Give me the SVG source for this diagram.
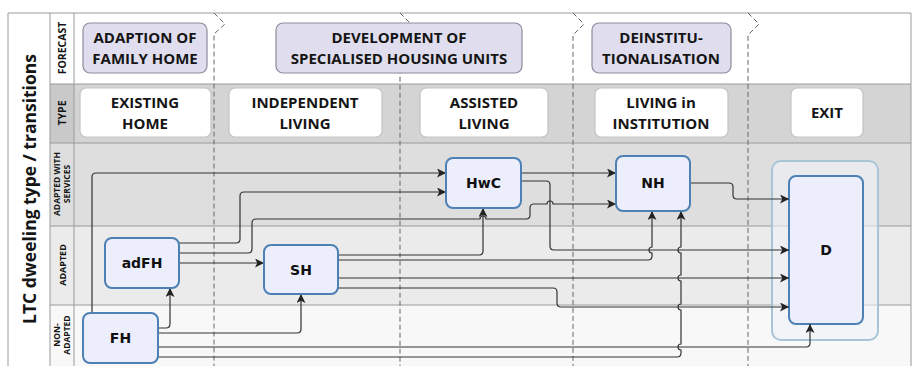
<svg xmlns="http://www.w3.org/2000/svg" width="913" height="366" viewBox="0 0 913 366">
<style>
.hdr{fill:#e0deee;stroke:#8e8c9c;stroke-width:1.2}
.typ{fill:#ffffff;stroke:#c4c4c4;stroke-width:1.2}
.ht{font-family:"Open Sans",sans-serif;font-weight:700;font-size:15px;fill:#151515;text-anchor:middle}
.rl{font-family:"Open Sans",sans-serif;font-weight:700;fill:#151515;text-anchor:middle}
.node rect{fill:#eceefc;stroke:#4d80b4;stroke-width:2}
.nt{font-family:"DejaVu Sans",sans-serif;font-weight:700;font-size:14px;fill:#111;text-anchor:middle}
.dash{fill:none;stroke:#666;stroke-width:1;stroke-dasharray:5,3}
.sep{stroke:#9a9a9a;stroke-width:1}
#connectors path{fill:none;stroke:#333;stroke-width:1.2}
</style>
<defs>
<marker id="ar" viewBox="0 0 10 10" refX="10" refY="5" markerWidth="9" markerHeight="9" markerUnits="userSpaceOnUse" orient="auto">
<path d="M0,0 L10,5 L0,10 L2.5,5 Z" fill="#222"/>
</marker>
</defs>
<rect x="0" y="0" width="913" height="366" fill="#ffffff"/>
<g id="rows">
<rect x="50" y="13" width="861" height="71" fill="#ffffff"/>
<rect x="50" y="84" width="861" height="59" fill="#d4d4d4"/>
<rect x="50" y="143" width="861" height="83" fill="#dedede"/>
<rect x="50" y="226" width="861" height="79" fill="#ebebeb"/>
<rect x="50" y="305" width="861" height="61" fill="#f8f8f8"/>
<rect x="50" y="84" width="24" height="59" fill="#c9c9c9"/>
<rect x="8" y="13" width="42" height="353" fill="#ffffff"/>
<line class="sep" x1="8" y1="13" x2="911" y2="13"/>
<line class="sep" x1="8" y1="13" x2="8" y2="366"/>
<line class="sep" x1="50" y1="13" x2="50" y2="366"/>
<line class="sep" x1="74" y1="13" x2="74" y2="366"/>
<line class="sep" x1="911" y1="13" x2="911" y2="366"/>
<line class="sep" x1="50" y1="84" x2="911" y2="84"/>
<line class="sep" x1="50" y1="143" x2="911" y2="143"/>
<line class="sep" x1="50" y1="226" x2="911" y2="226"/>
<line class="sep" x1="50" y1="305" x2="911" y2="305"/>
</g>
<g id="labels">
<text class="rl" font-size="17.5" transform="translate(36,189) rotate(-90)">LTC dweeling type / transitions</text>
<text class="rl" font-size="10.5" transform="translate(66,48) rotate(-90)">FORECAST</text>
<text class="rl" font-size="10.5" transform="translate(66,113) rotate(-90)">TYPE</text>
<text class="rl" font-size="8.5" transform="translate(60,184) rotate(-90)">ADAPTED WITH</text>
<text class="rl" font-size="8.5" transform="translate(69.5,184) rotate(-90)">SERVICES</text>
<text class="rl" font-size="9" transform="translate(65.5,265) rotate(-90)">ADAPTED</text>
<text class="rl" font-size="8.5" transform="translate(60,335) rotate(-90)">NON-</text>
<text class="rl" font-size="8.5" transform="translate(69.5,335) rotate(-90)">ADAPTED</text>
</g>
<g id="phases">
<path class="dash" d="M214,13 L225,24 L214,34 V366"/>
<path class="dash" d="M400,13 L410,23 L400,33 V366"/>
<path class="dash" d="M573,13 L584,24 L573,35 V366"/>
<path class="dash" d="M748,13 L759,24 L748,35 V366"/>
</g>
<g id="forecast-adaption"><rect class="hdr" x="83" y="23" width="124" height="50" rx="7"/><text class="ht" x="145" y="43">ADAPTION OF</text><text class="ht" x="145" y="64">FAMILY HOME</text></g>
<g id="forecast-development"><rect class="hdr" x="276" y="23" width="246" height="50" rx="7"/><text class="ht" x="399" y="43">DEVELOPMENT OF</text><text class="ht" x="399" y="64">SPECIALISED HOUSING UNITS</text></g>
<g id="forecast-deinst"><rect class="hdr" x="592" y="23" width="139" height="50" rx="7"/><text class="ht" x="661" y="43">DEINSTITU-</text><text class="ht" x="661" y="64">TIONALISATION</text></g>
<g id="type-existing"><rect class="typ" x="80" y="88" width="131" height="49" rx="6"/><text class="ht" x="145" y="108">EXISTING</text><text class="ht" x="145" y="129">HOME</text></g>
<g id="type-independent"><rect class="typ" x="229" y="88" width="153" height="49" rx="6"/><text class="ht" x="305" y="108">INDEPENDENT</text><text class="ht" x="305" y="129">LIVING</text></g>
<g id="type-assisted"><rect class="typ" x="420" y="88" width="128" height="49" rx="6"/><text class="ht" x="484" y="108">ASSISTED</text><text class="ht" x="484" y="129">LIVING</text></g>
<g id="type-institution"><rect class="typ" x="595" y="88" width="133" height="49" rx="6"/><text class="ht" x="661" y="108">LIVING in</text><text class="ht" x="661" y="129">INSTITUTION</text></g>
<g id="type-exit"><rect class="typ" x="791" y="88" width="72" height="49" rx="6"/><text class="ht" x="827" y="118">EXIT</text></g>
<g id="node-D"><rect x="772" y="161" width="106" height="179" rx="9" fill="#eef2f8" fill-opacity="0.6" stroke="#a8c5d8" stroke-width="2"/><g class="node"><rect x="789" y="176" width="74" height="148" rx="7"/></g><text class="nt" x="826" y="255">D</text></g>
<g id="connectors">
<path d="M92,313 V177 Q92,173 96,173 H446" marker-end="url(#ar)"/>
<path d="M179,243 H236 Q240,243 240,239 V196 Q240,192 244,192 H446" marker-end="url(#ar)"/>
<path d="M179,253 H248 Q252,253 252,249 V223 Q252,219 256,219 H480 A3,3 0 0 1 486,219 H526 Q530,219 530,215 V208 Q530,204 534,204 H547 A3,3 0 0 1 553,204 H616" marker-end="url(#ar)"/>
<path d="M179,263 H264" marker-end="url(#ar)"/>
<path d="M158,328 H166 Q170,328 170,324 V288" marker-end="url(#ar)"/>
<path d="M158,333 H297 Q301,333 301,329 V294" marker-end="url(#ar)"/>
<path d="M158,347 H806 Q810,347 810,343 V324" marker-end="url(#ar)"/>
<path d="M158,357 H677 Q681,357 681,353 V350 A3,3 0 0 1 681,344 V310 A3,3 0 0 1 681,304 V281 A3,3 0 0 1 681,275 V253 A3,3 0 0 1 681,247 V211" marker-end="url(#ar)"/>
<path d="M338,255 H479 Q483,255 483,251 V208" marker-end="url(#ar)"/>
<path d="M338,260 H648 Q652,260 652,256 V253 A3,3 0 0 1 652,247 V211" marker-end="url(#ar)"/>
<path d="M338,278 H789" marker-end="url(#ar)"/>
<path d="M338,288 H553 Q557,288 557,292 V303 Q557,307 561,307 H789" marker-end="url(#ar)"/>
<path d="M521,173 H616" marker-end="url(#ar)"/>
<path d="M521,181 H546 Q550,181 550,185 V246 Q550,250 554,250 H789" marker-end="url(#ar)"/>
<path d="M690,183 H729 Q733,183 733,187 V195 Q733,199 737,199 H789" marker-end="url(#ar)"/>
</g>
<g id="node-FH" class="node"><rect x="83" y="313" width="75" height="50" rx="7"/><text class="nt" x="120.5" y="343">FH</text></g>
<g id="node-adFH" class="node"><rect x="105" y="238" width="74" height="50" rx="7"/><text class="nt" x="142" y="268">adFH</text></g>
<g id="node-SH" class="node"><rect x="264" y="245" width="74" height="49" rx="7"/><text class="nt" x="301" y="275">SH</text></g>
<g id="node-HwC" class="node"><rect x="446" y="158" width="75" height="50" rx="7"/><text class="nt" x="483.5" y="188">HwC</text></g>
<g id="node-NH" class="node"><rect x="616" y="156" width="74" height="55" rx="7"/><text class="nt" x="653" y="188">NH</text></g>
</svg>
